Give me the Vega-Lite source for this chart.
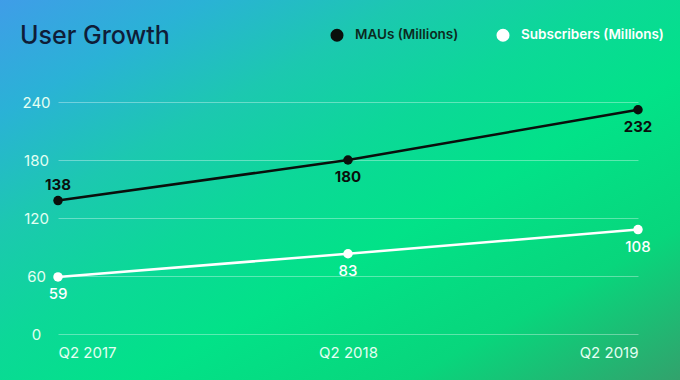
{
  "$schema": "https://vega.github.io/schema/vega-lite/v6.json",
  "width": 680,
  "height": 380,
  "autosize": {"type": "none"},
  "padding": 0,
  "background": "#10d090",
  "title": {
    "text": "User Growth",
    "anchor": "start",
    "frame": "group",
    "offset": -49,
    "dx": 20,
    "fontSize": 25,
    "font": "Inter",
    "fontWeight": 500,
    "color": "#0f1d38"
  },
  "data": {
    "values": [
      {"quarter": "Q2 2017", "series": "MAUs (Millions)", "value": 138},
      {"quarter": "Q2 2018", "series": "MAUs (Millions)", "value": 180},
      {"quarter": "Q2 2019", "series": "MAUs (Millions)", "value": 232},
      {"quarter": "Q2 2017", "series": "Subscribers (Millions)", "value": 59},
      {"quarter": "Q2 2018", "series": "Subscribers (Millions)", "value": 83},
      {"quarter": "Q2 2019", "series": "Subscribers (Millions)", "value": 108}
    ]
  },
  "encoding": {
    "x": {
      "field": "quarter",
      "type": "ordinal",
      "sort": null,
      "scale": {"type": "point", "range": [58, 638], "padding": 0},
      "axis": {
        "orient": "bottom",
        "offset": -40,
        "domain": false,
        "ticks": false,
        "grid": false,
        "labelFlush": true,
        "labelPadding": 5,
        "labelAngle": 0,
        "labelFontSize": 15,
        "labelFont": "Inter",
        "labelColor": "#e4fff2",
        "title": null
      }
    },
    "y": {
      "field": "value",
      "type": "quantitative",
      "scale": {"domain": [0, 240], "range": [334, 102], "nice": false},
      "axis": {
        "offset": -58,
        "domain": false,
        "ticks": false,
        "grid": true,
        "gridColor": "#ffffff",
        "gridOpacity": 0.35,
        "gridWidth": 1,
        "values": [0, 60, 120, 180, 240],
        "labelAlign": "center",
        "labelPadding": 22,
        "labelFontSize": 15,
        "labelFont": "Inter",
        "labelColor": "#e4fff2",
        "title": null
      }
    },
    "color": {
      "field": "series",
      "type": "nominal",
      "scale": {"domain": ["MAUs (Millions)", "Subscribers (Millions)"], "range": ["#0a0f0c", "#ffffff"]},
      "legend": {
        "orient": "none",
        "legendX": 330,
        "legendY": 28,
        "direction": "horizontal",
        "title": null,
        "symbolType": "circle",
        "symbolSize": 170,
        "symbolOpacity": 1,
        "symbolStrokeWidth": 0,
        "labelFontSize": 13.5,
        "labelFont": "Inter",
        "labelFontWeight": 600,
        "labelOffset": 11,
        "columnPadding": 37,
        "encode": {
          "labels": {"update": {"fill": {"signal": "datum.label === 'MAUs (Millions)' ? '#0c2a1e' : '#ffffff'"}}}
        }
      }
    }
  },
  "layer": [
    {"mark": {"type": "line", "strokeWidth": 2.5}},
    {"mark": {"type": "point", "filled": true, "size": 90, "opacity": 1}},
    {
      "transform": [{"filter": "datum.series === 'MAUs (Millions)' && datum.quarter === 'Q2 2017'"}],
      "mark": {"type": "text", "dy": -16, "fontSize": 15, "font": "Inter", "fontWeight": 700, "baseline": "middle"},
      "encoding": {"text": {"field": "value", "type": "quantitative"}}
    },
    {
      "transform": [{"filter": "datum.series === 'MAUs (Millions)' && datum.quarter !== 'Q2 2017'"}],
      "mark": {"type": "text", "dy": 17, "fontSize": 15, "font": "Inter", "fontWeight": 700, "baseline": "middle"},
      "encoding": {"text": {"field": "value", "type": "quantitative"}}
    },
    {
      "transform": [{"filter": "datum.series === 'Subscribers (Millions)'"}],
      "mark": {"type": "text", "dy": 17, "fontSize": 15, "font": "Inter", "fontWeight": 500, "baseline": "middle"},
      "encoding": {"text": {"field": "value", "type": "quantitative"}}
    }
  ],
  "config": {
    "view": {
      "stroke": null,
      "fill": {
        "gradient": "linear",
        "x1": 0, "y1": 0, "x2": 1, "y2": 1,
        "stops": [
          {"offset": 0, "color": "#3f9de8"},
          {"offset": 0.15, "color": "#2ab2d6"},
          {"offset": 0.3, "color": "#1cc8b0"},
          {"offset": 0.45, "color": "#0cd898"},
          {"offset": 0.6, "color": "#02e288"},
          {"offset": 0.8, "color": "#08d67c"},
          {"offset": 1, "color": "#32a26c"}
        ]
      }
    }
  }
}
